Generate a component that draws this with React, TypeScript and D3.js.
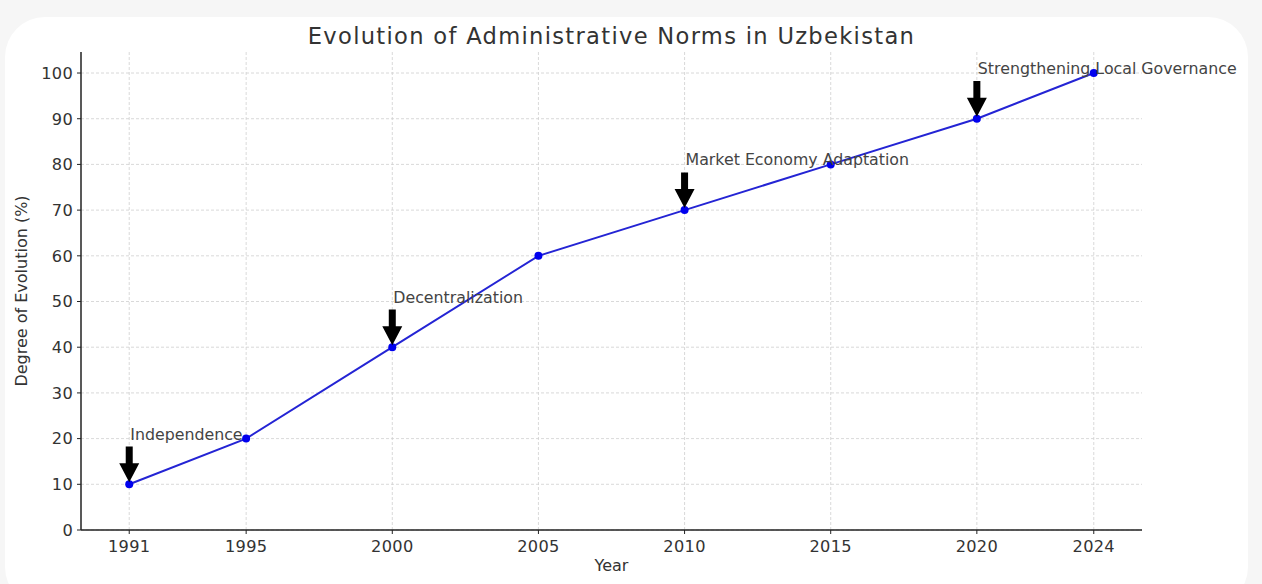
import React from 'react';
import * as d3 from 'd3';

const years = [1991, 1995, 2000, 2005, 2010, 2015, 2020, 2024];
const degrees = [10, 20, 40, 60, 70, 80, 90, 100];
const yTicks = [0, 10, 20, 30, 40, 50, 60, 70, 80, 90, 100];
const milestoneYears = [1991, 2000, 2010, 2020];
const milestoneLabels = ['Independence', 'Decentralization', 'Market Economy Adaptation', 'Strengthening Local Governance'];

const W = 1262;
const H = 584;
const margin = { top: 52, right: 120, bottom: 54, left: 81 };
const font = 'DejaVu Sans, sans-serif';

export default function App() {
  const x = d3.scaleLinear().domain([1989.35, 2025.65]).range([margin.left, W - margin.right]);
  const y = d3.scaleLinear().domain([0, 104.6]).range([H - margin.bottom, margin.top]);

  const line = d3.line<number>()
    .x((_, i) => x(years[i]))
    .y(d => y(d));

  const points = years.map((yr, i) => ({ yr, v: degrees[i] }));

  // arrows from label baseline down to the data point
  const arrows = milestoneYears.map((yr, i) => {
    const v = degrees[years.indexOf(yr)];
    const tx = x(yr);
    const top = y(v + 10) + 8;
    const tip = y(v) - 2;
    const headLen = 19, headW = 10, shaft = 3.5;
    const path = [
      [tx - shaft, top], [tx + shaft, top], [tx + shaft, tip - headLen],
      [tx + headW, tip - headLen], [tx, tip], [tx - headW, tip - headLen],
      [tx - shaft, tip - headLen],
    ].map(p => p.join(',')).join(' ');
    return { yr, v, label: milestoneLabels[i], path };
  });

  const x0 = margin.left, x1 = W - margin.right;
  const y0 = H - margin.bottom, y1 = margin.top;

  return (
    <svg width={W} height={H} style={{ position: 'absolute', left: 0, top: 0, fontFamily: font }}>
      <rect width={W} height={H} fill="#f6f6f6" />
      <rect x={5} y={17} width={1243} height={590} rx={40} fill="#ffffff" />

      {/* grid */}
      <g stroke="#cfcfcf" strokeWidth={0.8} strokeDasharray="3,2">
        {yTicks.map(t => <line key={'gy' + t} x1={x0} x2={x1} y1={y(t)} y2={y(t)} />)}
        {years.map(t => <line key={'gx' + t} x1={x(t)} x2={x(t)} y1={y0} y2={y1} />)}
      </g>

      {/* axes */}
      <g stroke="#222" strokeWidth={1.5}>
        <line x1={x0} x2={x0} y1={y1} y2={y0} />
        <line x1={x0} x2={x1} y1={y0} y2={y0} />
        {yTicks.map(t => <line key={'ty' + t} x1={x0 - 4} x2={x0} y1={y(t)} y2={y(t)} strokeWidth={1} />)}
        {years.map(t => <line key={'tx' + t} x1={x(t)} x2={x(t)} y1={y0} y2={y0 + 4} strokeWidth={1} />)}
      </g>
      <g fill="#333" fontSize={16.2} letterSpacing={0.3}>
        {yTicks.map(t => (
          <text key={'ly' + t} x={x0 - 8} y={y(t)} dy="0.36em" textAnchor="end">{t}</text>
        ))}
        {years.map(t => (
          <text key={'lx' + t} x={x(t)} y={y0 + 22} textAnchor="middle">{t}</text>
        ))}
      </g>

      <text x={(x0 + x1) / 2} y={44} textAnchor="middle" fontSize={22.6} letterSpacing={1.3} fill="#333">
        Evolution of Administrative Norms in Uzbekistan
      </text>
      <text x={(x0 + x1) / 2} y={571} textAnchor="middle" fontSize={16} fill="#333">Year</text>
      <text transform={`translate(27,${(y0 + y1) / 2}) rotate(-90)`} textAnchor="middle" fontSize={16} fill="#333">
        Degree of Evolution (%)
      </text>

      {/* series */}
      <path d={line(degrees) || ''} fill="none" stroke="#2424d4" strokeWidth={2} />
      {points.map(p => (
        <circle key={'p' + p.yr} cx={x(p.yr)} cy={y(p.v)} r={4} fill="#0000ee" />
      ))}

      {/* annotations */}
      {arrows.map(a => (
        <g key={'a' + a.yr}>
          <polygon points={a.path} fill="#000" />
          <text x={x(a.yr) + 1} y={y(a.v + 10) + 1} fontSize={15.8} fill="#444">{a.label}</text>
        </g>
      ))}
    </svg>
  );
}
